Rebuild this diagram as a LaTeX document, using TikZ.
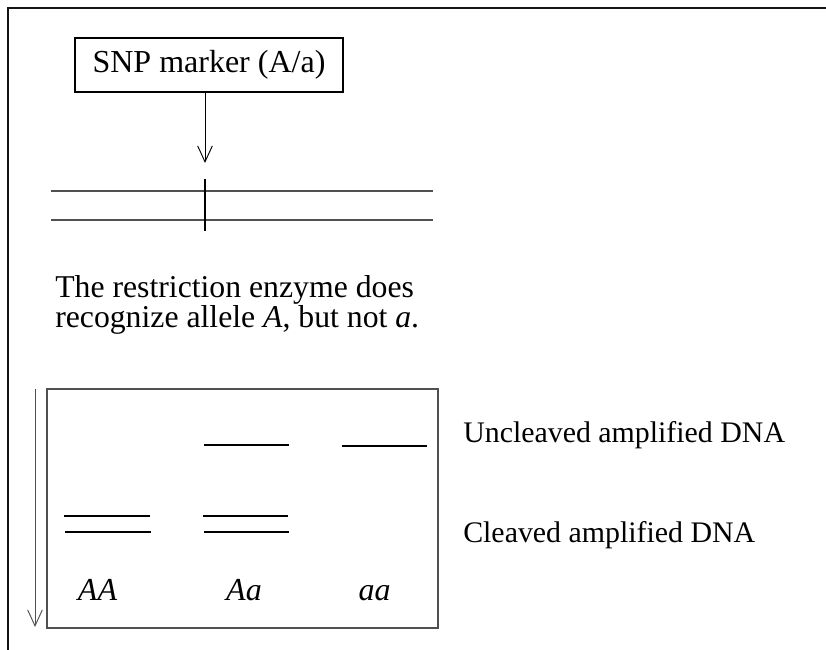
\documentclass[tikz,border=0pt]{standalone}
\usepackage{fontspec}
\setmainfont{Liberation Serif}
\usepackage{tikz}
\usetikzlibrary{arrows.meta,positioning,calc}
\definecolor{frame}{RGB}{20,20,20}
\definecolor{gel}{RGB}{80,80,80}

\begin{document}
\begin{tikzpicture}[
    x=0.75pt, y=-0.75pt,
    marker/.style={draw, line width=0.8pt, minimum width=268*0.75pt, minimum height=54*0.75pt, inner sep=0pt,
        font=\fontsize{24}{30}\selectfont},
    arrow/.style={-{Straight Barb[length=12pt,width=11pt]}, line width=0.7pt},
    band/.style={line width=0.9pt},
    note/.style={font=\fontsize{23.8}{30}\selectfont, inner sep=0pt, anchor=base west},
    label/.style={font=\fontsize{22.4}{30}\selectfont, inner sep=0pt, anchor=base west},
    lane/.style={font=\fontsize{24}{30}\selectfont\itshape, inner sep=0pt, anchor=base}
]
    \useasboundingbox (0,0) rectangle (826,650);

    % Outer frame
    \draw[frame, line width=1.3pt] (8,650) -- (8,8) -- (826,8);

    % SNP marker
    \node[marker] (snp) at (209,65) {SNP marker (A/a)};
    \coordinate (site) at (205,163);
    \draw[arrow] (snp.south -| site) -- (site);

    % DNA strands
    \coordinate (top1) at (51,191);
    \coordinate (top2) at (433,191);
    \coordinate (bot1) at (51,220);
    \coordinate (bot2) at (433,220);
    \draw[gel, line width=0.9pt] (top1) -- (top2);
    \draw[gel, line width=0.9pt] (bot1) -- (bot2);
    \draw[line width=0.8pt] (205,179) -- (205,231);

    % Explanation
    \node[note] (note1) at (55,297) {The restriction enzyme does};
    \node[note] (note2) at (55,327) {recognize allele \textit{A}, but not \textit{a}.};

    % Gel
    \node[draw=gel, line width=0.9pt, minimum width=391*0.75pt, minimum height=239*0.75pt, inner sep=0pt] (gelbox) at (242.5,508.5) {};
    \coordinate (runtop) at (35,389);
    \coordinate (runend) at (35,627);
    \draw[arrow, gel] (runtop) -- (runend);

    % Bands
    \draw[band] (64,516) -- (150,516);
    \draw[band] (65,532) -- (151,532);
    \draw[band] (204,445) -- (289,445);
    \draw[band] (203,516) -- (288,516);
    \draw[band] (204,532) -- (289,532);
    \draw[band] (342,446) -- (427,446);

    % Lane labels
    \node[lane] (aa1) at (97.5,600) {AA};
    \node[lane] (aa2) at (244,600) {Aa};
    \node[lane] (aa3) at (374.5,600) {aa};

    % Band labels
    \node[label] (uncut) at (463,442) {Uncleaved amplified DNA};
    \node[label] (cut) at (463,542) {Cleaved amplified DNA};
\end{tikzpicture}
\end{document}
